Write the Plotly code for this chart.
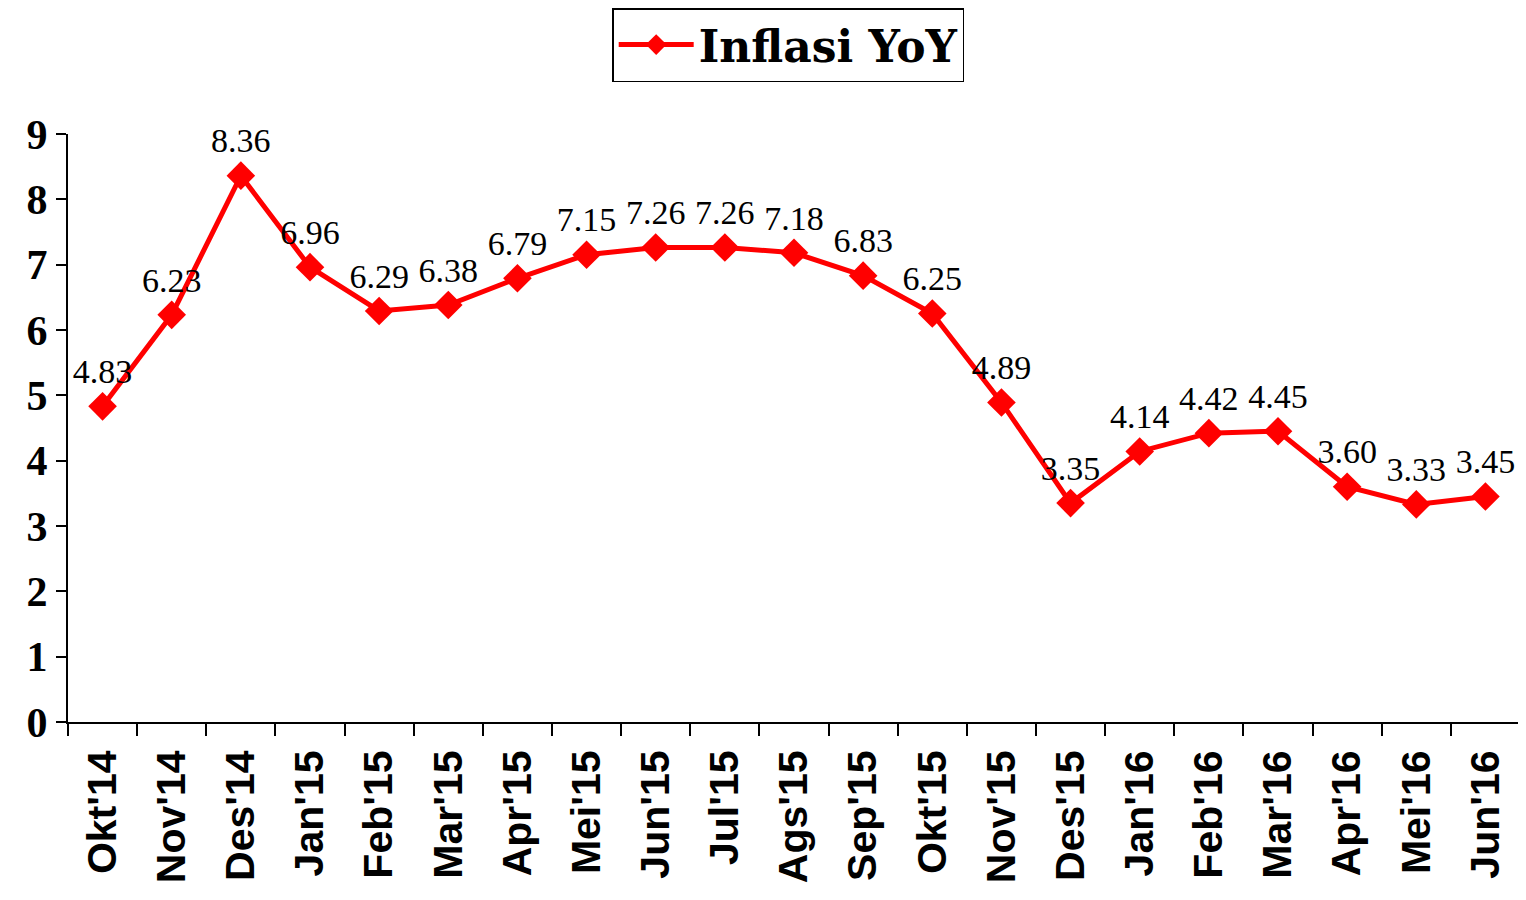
import plotly.graph_objects as go

months = ["Okt'14", "Nov'14", "Des'14", "Jan'15", "Feb'15", "Mar'15", "Apr'15",
          "Mei'15", "Jun'15", "Jul'15", "Ags'15", "Sep'15", "Okt'15", "Nov'15",
          "Des'15", "Jan'16", "Feb'16", "Mar'16", "Apr'16", "Mei'16", "Jun'16"]
inflasi = [4.83, 6.23, 8.36, 6.96, 6.29, 6.38, 6.79, 7.15, 7.26, 7.26, 7.18,
           6.83, 6.25, 4.89, 3.35, 4.14, 4.42, 4.45, 3.60, 3.33, 3.45]
y_ticks = [0, 1, 2, 3, 4, 5, 6, 7, 8, 9]

RED = "#ff0000"

fig = go.Figure()
fig.add_trace(go.Scatter(
    x=months, y=inflasi, mode="lines+markers+text",
    name="Inflasi YoY",
    line=dict(color=RED, width=5),
    marker=dict(symbol="diamond", size=22, color=RED),
    text=[f"{v:.2f}" for v in inflasi],
    textposition="top center",
    textfont=dict(family="Liberation Serif", size=34, color="black"),
    cliponaxis=False,
))

# page body adds an 8px offset, margins are set with that in mind;
# plot area kept below the legend via the y domain so the legend sits inside the paper
fig.update_layout(
    width=1526, height=900,
    margin=dict(l=60, r=14, t=0, b=186),
    plot_bgcolor="white", paper_bgcolor="white",
    showlegend=True,
    legend=dict(
        x=0.496, y=0.9496, xanchor="center", yanchor="middle",
        bordercolor="black", borderwidth=1.5, itemwidth=75,
        font=dict(family="DejaVu Serif", size=44, color="black", weight="bold"),
    ),
    xaxis=dict(
        type="category", range=[-0.5, len(months) - 0.5], automargin=False,
        tickson="boundaries", ticks="outside", ticklen=12, ticklabelstandoff=10,
        tickwidth=2, tickcolor="black", showline=True, linecolor="black",
        linewidth=2, tickangle=-90, showgrid=False,
        tickfont=dict(family="Liberation Sans", size=41, color="black", weight="bold"),
    ),
    yaxis=dict(
        domain=[0, 0.8249], automargin=False,
        range=[0, 9], tickvals=y_ticks, ticks="outside", ticklen=10,
        tickwidth=2, tickcolor="black", showline=True, linecolor="black",
        linewidth=2, showgrid=False, zeroline=False,
        tickfont=dict(family="Liberation Serif", size=42, color="black", weight="bold"),
    ),
)

fig.write_html("out.html")
